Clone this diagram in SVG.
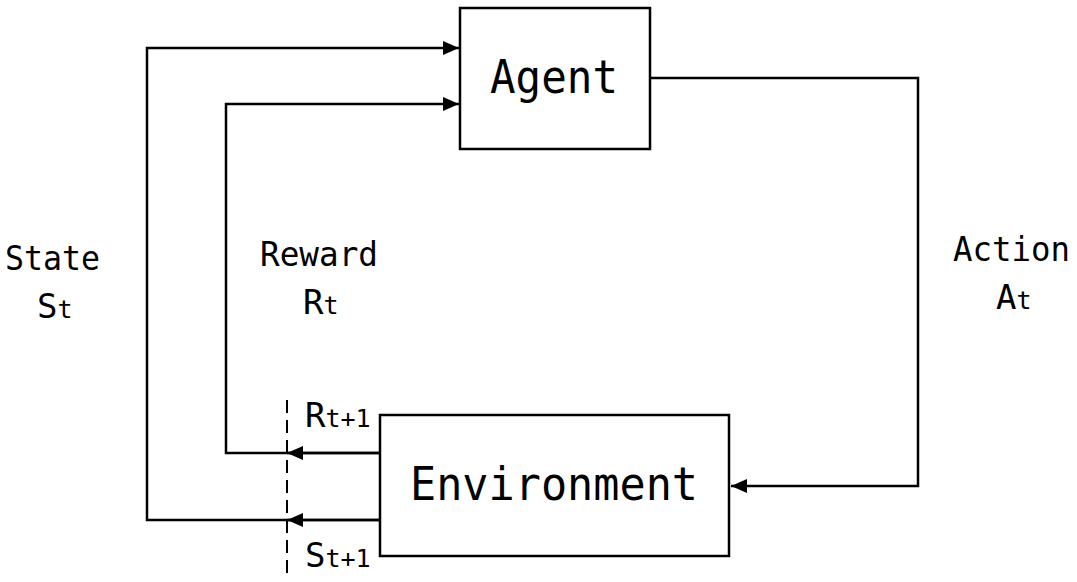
<svg xmlns="http://www.w3.org/2000/svg" width="1077" height="582" viewBox="0 0 1077 582">
<style>
.box{fill:#fff;stroke:#000;stroke-width:2.5}
.ln{fill:none;stroke:#000;stroke-width:2.5}
.dash{fill:none;stroke:#000;stroke-width:2;stroke-dasharray:13,7}
.t{font-family:"DejaVu Sans Mono","Liberation Mono",monospace;fill:#000}
.big{font-size:46px}
.lab{font-size:34px}
.sub{font-size:25px}
</style>
<defs>
<marker id="ah" viewBox="0 0 16 14" refX="16" refY="7" markerWidth="16" markerHeight="14" markerUnits="userSpaceOnUse" orient="auto">
<path d="M0,0 L16,7 L0,14 Z" fill="#000"/>
</marker>
</defs>
<g id="connectors">
<polyline class="ln" points="380,520 147,520 147,48 459,48" marker-end="url(#ah)"/>
<polyline class="ln" points="380,453 226,453 226,104 459,104" marker-end="url(#ah)"/>
<line class="ln" x1="380" y1="453" x2="287" y2="453" marker-end="url(#ah)"/>
<line class="ln" x1="380" y1="520" x2="287" y2="520" marker-end="url(#ah)"/>
<polyline class="ln" points="650,78 918,78 918,486 731,486" marker-end="url(#ah)"/>
<line class="dash" x1="287" y1="400" x2="287" y2="578"/>
</g>
<g id="agent">
<rect class="box" x="460" y="8" width="190" height="141"/>
<text class="t big" x="490" y="93" textLength="128" lengthAdjust="spacingAndGlyphs">Agent</text>
</g>
<g id="environment">
<rect class="box" x="380" y="415" width="349" height="141"/>
<text class="t big" x="410" y="500" textLength="288" lengthAdjust="spacingAndGlyphs">Environment</text>
</g>
<g id="labels">
<text class="t lab" x="5" y="270" textLength="95" lengthAdjust="spacingAndGlyphs">State</text>
<text class="t lab" x="37" y="318">S<tspan class="sub">t</tspan></text>
<text class="t lab" x="260" y="266" textLength="118" lengthAdjust="spacingAndGlyphs">Reward</text>
<text class="t lab" x="303" y="314">R<tspan class="sub">t</tspan></text>
<text class="t lab" x="953" y="261" textLength="117" lengthAdjust="spacingAndGlyphs">Action</text>
<text class="t lab" x="996" y="309">A<tspan class="sub">t</tspan></text>
<text class="t lab" x="305" y="427">R<tspan class="sub">t+1</tspan></text>
<text class="t lab" x="305" y="567">S<tspan class="sub">t+1</tspan></text>
</g>
</svg>
